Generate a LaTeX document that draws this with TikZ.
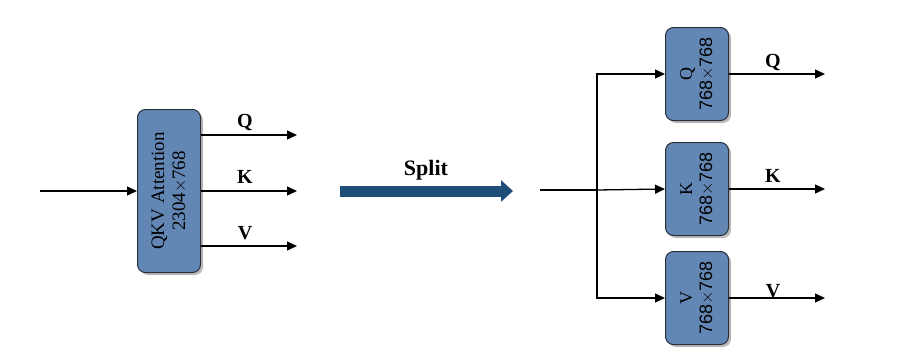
\documentclass[tikz,border=0pt]{standalone}
\usepackage{fontspec}
\setmainfont{Liberation Serif}
\newfontfamily\dimfont{Liberation Sans}
\usetikzlibrary{positioning, arrows.meta, shadows, calc}
\definecolor{blockfill}{RGB}{98, 135, 181}
\definecolor{blockline}{RGB}{40, 48, 60}
\definecolor{splitblue}{RGB}{31, 78, 121}

\tikzset{
    block/.style={draw=blockline, fill=blockfill, line width=1pt, rounded corners=8pt,
        rotate=90, align=center, inner sep=2pt,
        drop shadow={shadow xshift=2.5pt, shadow yshift=-2.5pt, fill=black!45, opacity=0.6}},
    flow/.style={line width=1.3pt, -{Triangle[length=10pt, width=9pt]}},
    tag/.style={font=\bfseries\fontsize{20}{20}\selectfont, inner sep=1pt}
}

\begin{document}
\begin{tikzpicture}[x=1pt, y=-1pt]
    \useasboundingbox (0,0) rectangle (924,362);

    % left: fused projection
    \node[block, minimum width=163pt, minimum height=63pt, font=\fontsize{19}{21}\selectfont] (qkv) at (169,191)
        {QKV Attention\\2304$\times$768};
    \coordinate (in) at (40,191);
    \draw[flow] (in) -- (qkv.north);

    \coordinate (qend) at (297,135);
    \coordinate (kend) at (297,191);
    \coordinate (vend) at (297,246);
    \draw[flow] (qkv.south |- qend) -- (qend);
    \draw[flow] (qkv.south |- kend) -- (kend);
    \draw[flow] (qkv.south |- vend) -- (vend);
    \node[tag] (lq) at (245,122) {Q};
    \node[tag] (lk) at (245,177) {K};
    \node[tag] (lv) at (245,233) {V};

    % split arrow
    \coordinate (sa) at (340,191);
    \coordinate (sb) at (513,191);
    \draw[splitblue, line width=11pt, -{Triangle[length=12pt, width=21pt]}] (sa) -- (sb);
    \node[tag, font=\bfseries\fontsize{22}{22}\selectfont] (split) at (426,170) {Split};

    % right: separate projections
    \node[block, minimum width=93pt, minimum height=63pt, font=\fontsize{18}{20}\selectfont] (bq) at (697,74)
        {Q\\{\dimfont 768$\times$768}};
    \node[block, minimum width=93pt, minimum height=63pt, font=\fontsize{18}{20}\selectfont] (bk) at (697,189)
        {K\\{\dimfont 768$\times$768}};
    \node[block, minimum width=93pt, minimum height=63pt, font=\fontsize{18}{20}\selectfont] (bv) at (697,298)
        {V\\{\dimfont 768$\times$768}};

    \coordinate (src) at (540,190);
    \coordinate (fork) at (597,190);
    \draw[line width=1.3pt] (src) -- (fork);
    \draw[flow] (fork) |- (bq.north);
    \draw[flow] (fork) -- (bk.north);
    \draw[flow] (fork) |- (bv.north);

    \coordinate (oq) at (825,74);
    \coordinate (ok) at (825,189);
    \coordinate (ov) at (825,298);
    \draw[flow] (bq.south) -- (oq);
    \draw[flow] (bk.south) -- (ok);
    \draw[flow] (bv.south) -- (ov);
    \node[tag] (rq) at (773,62) {Q};
    \node[tag] (rk) at (773,176) {K};
    \node[tag] (rv) at (773,291) {V};
\end{tikzpicture}
\end{document}
